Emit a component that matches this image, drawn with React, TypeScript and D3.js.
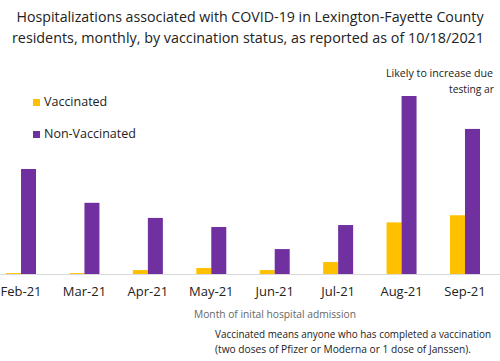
import React from "react";
import * as d3 from "d3";

const months = ["Feb-21", "Mar-21", "Apr-21", "May-21", "Jun-21", "Jul-21", "Aug-21", "Sep-21"];
const vaccinated = [0.5, 0.5, 2.2, 3.4, 2.2, 6.7, 29, 33];
const nonVaccinated = [59, 40, 31.5, 26.4, 14, 27.5, 100, 81.5];
const seriesNames = ["Vaccinated", "Non-Vaccinated"];
const colors = ["#FFC000", "#7030A0"];

const W = 500;
const H = 361;
const FONT = "'Open Sans', 'Noto Sans', sans-serif";

export default function App() {
  const x0 = d3.scaleBand<string>().domain(months).range([-10.7, 496.7]).paddingInner(0).paddingOuter(0);
  const barW = 15;
  const y = d3.scaleLinear().domain([0, 100]).range([274, 96]);
  const data = [vaccinated, nonVaccinated];

  return (
    <svg width={W} height={H} style={{ position: "absolute", left: 0, top: 0, background: "#fff" }} fontFamily={FONT}>
      <rect x={0} y={0} width={W} height={H} fill="#fff" />
      <text x={250} y={22} textAnchor="middle" fontSize={14.5} fill="#222" textLength={467} lengthAdjust="spacingAndGlyphs">
        Hospitalizations associated with COVID-19 in Lexington-Fayette County
      </text>
      <text x={248} y={43} textAnchor="middle" fontSize={14.5} fill="#222" textLength={472} lengthAdjust="spacingAndGlyphs">
        residents, monthly, by vaccination status, as reported as of  10/18/2021
      </text>

      <text x={386} y={77} fontSize={11.5} fill="#222" textLength={107} lengthAdjust="spacingAndGlyphs">Likely to increase due</text>
      <text x={449} y={93} fontSize={11.5} fill="#222" textLength={45} lengthAdjust="spacingAndGlyphs">testing ar</text>

      {seriesNames.map((n, i) => (
        <g key={n}>
          <rect x={33} y={99 + i * 32} width={7} height={7} fill={colors[i]} />
          <text x={44} y={106 + i * 32} fontSize={12.5} fill="#222">{n}</text>
        </g>
      ))}

      <line x1={0} x2={W} y1={274.5} y2={274.5} stroke="#D9D9D9" strokeWidth={1} />

      {months.map((m, j) => {
        const cx = (x0(m) as number) + x0.bandwidth() / 2;
        return (
          <g key={m}>
            {data.map((s, i) => (
              <rect
                key={i}
                x={cx - barW + i * barW}
                y={y(s[j])}
                width={barW}
                height={y(0) - y(s[j])}
                fill={colors[i]}
              />
            ))}
            <text x={cx} y={296} textAnchor="middle" fontSize={13} fill="#222">{m}</text>
          </g>
        );
      })}

      <text x={275} y={318} textAnchor="middle" fontSize={11} fill="#666" textLength={162} lengthAdjust="spacingAndGlyphs">
        Month of inital hospital admission
      </text>
      <text x={215} y={338} fontSize={11} fill="#222" textLength={276} lengthAdjust="spacingAndGlyphs">
        Vaccinated means anyone who has completed a vaccination
      </text>
      <text x={215} y={353} fontSize={11} fill="#222" textLength={256} lengthAdjust="spacingAndGlyphs">
        (two doses of Pfizer or Moderna or 1 dose of Janssen).
      </text>
    </svg>
  );
}
